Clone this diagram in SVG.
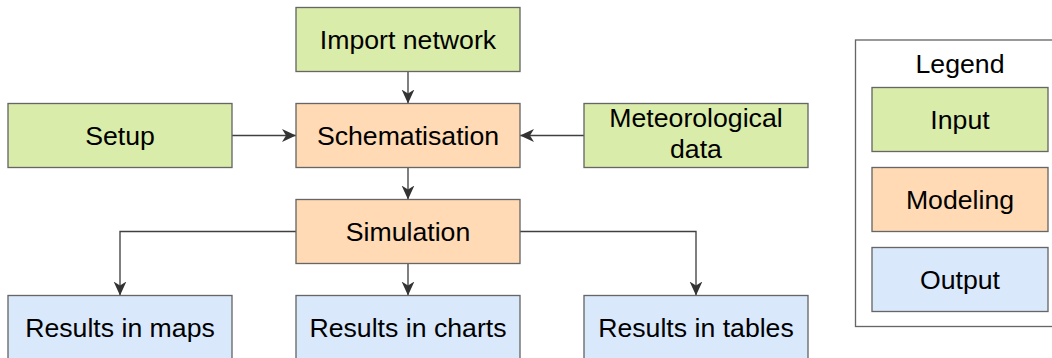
<svg xmlns="http://www.w3.org/2000/svg" width="1052" height="358" viewBox="0 0 1052 358">
  <style>
    .box { stroke: #666666; stroke-width: 1.33; }
    .input { fill: #d9eca9; }
    .model { fill: #ffdab4; }
    .output { fill: #dae8fc; }
    .frame { fill: #ffffff; stroke: #666666; stroke-width: 1.33; }
    .label { font-family: "Liberation Sans", Arial, sans-serif; font-size: 26.67px; fill: #000000; text-anchor: middle; }
    .edge { fill: none; stroke: #404040; stroke-width: 1.33; marker-end: url(#head); }
  </style>
  <defs>
    <marker id="head" markerUnits="userSpaceOnUse" viewBox="0 0 14 14" refX="14" refY="7" markerWidth="14" markerHeight="14" orient="auto">
      <path d="M0,0.6 L14,7 L0,13.4 L4,7 Z" fill="#333333"/>
    </marker>
  </defs>

  <rect width="1052" height="358" fill="#ffffff"/>

  <!-- legend -->
  <g id="legend">
    <rect class="frame" x="855.5" y="40" width="208" height="286.5"/>
    <text class="label" x="960" y="73">Legend</text>
    <g id="legend-input">
      <rect class="box input" x="872" y="87.5" width="176" height="64"/>
      <text class="label" x="960" y="128.5">Input</text>
    </g>
    <g id="legend-modeling">
      <rect class="box model" x="872" y="167.5" width="176" height="64"/>
      <text class="label" x="960" y="208.5">Modeling</text>
    </g>
    <g id="legend-output">
      <rect class="box output" x="872" y="247.5" width="176" height="64"/>
      <text class="label" x="960" y="288.5">Output</text>
    </g>
  </g>

  <!-- connectors -->
  <g id="connectors">
    <path class="edge" d="M408,71.5 V103.5"/>
    <path class="edge" d="M232,135.5 H296"/>
    <path class="edge" d="M584,135.5 H520"/>
    <path class="edge" d="M408,167.5 V199.5"/>
    <path class="edge" d="M296,231.5 H120 V295.5"/>
    <path class="edge" d="M408,263.5 V295.5"/>
    <path class="edge" d="M520,231.5 H696 V295.5"/>
  </g>

  <!-- input nodes -->
  <g id="import-network">
    <rect class="box input" x="296" y="7.5" width="224" height="64"/>
    <text class="label" x="408" y="48.5">Import network</text>
  </g>
  <g id="setup">
    <rect class="box input" x="8" y="103.5" width="224" height="64"/>
    <text class="label" x="120" y="144.5">Setup</text>
  </g>
  <g id="meteorological-data">
    <rect class="box input" x="584" y="103.5" width="224" height="64"/>
    <text class="label" x="696" y="126.5">Meteorological</text>
    <text class="label" x="696" y="158">data</text>
  </g>

  <!-- modeling nodes -->
  <g id="schematisation">
    <rect class="box model" x="296" y="103.5" width="224" height="64"/>
    <text class="label" x="408" y="144.5">Schematisation</text>
  </g>
  <g id="simulation">
    <rect class="box model" x="296" y="199.5" width="224" height="64"/>
    <text class="label" x="408" y="240.5">Simulation</text>
  </g>

  <!-- output nodes -->
  <g id="results-maps">
    <rect class="box output" x="8" y="295.5" width="224" height="64"/>
    <text class="label" x="120" y="336.5">Results in maps</text>
  </g>
  <g id="results-charts">
    <rect class="box output" x="296" y="295.5" width="224" height="64"/>
    <text class="label" x="408" y="336.5">Results in charts</text>
  </g>
  <g id="results-tables">
    <rect class="box output" x="584" y="295.5" width="224" height="64"/>
    <text class="label" x="696" y="336.5">Results in tables</text>
  </g>
</svg>
